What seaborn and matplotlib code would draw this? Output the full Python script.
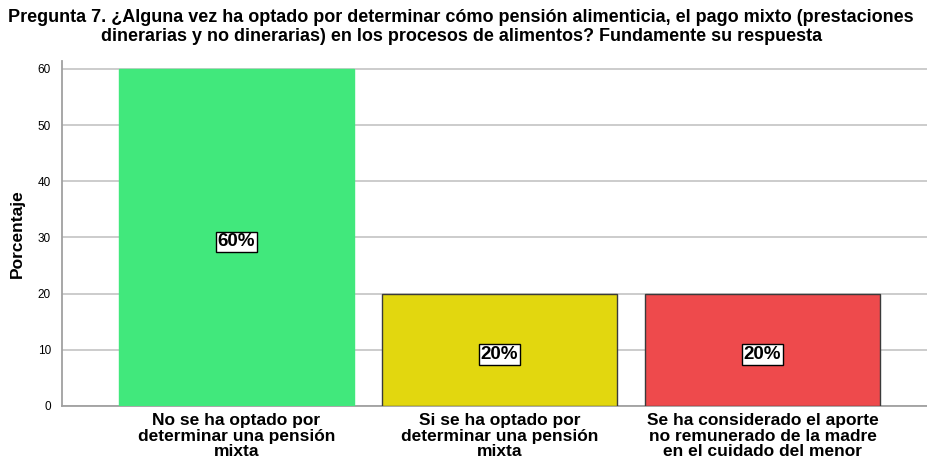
import pandas as pd
import matplotlib
matplotlib.use("Agg")
from matplotlib import pyplot as plt
import seaborn as sns

categorias = [
    "No se ha optado por\ndeterminar una pensión\nmixta",
    "Si se ha optado por\ndeterminar una pensión\nmixta",
    "Se ha considerado el aporte\nno remunerado de la madre\nen el cuidado del menor",
]
porcentajes = [60, 20, 20]
etiquetas = ["60%", "20%", "20%"]
colores = ["#41E87C", "#E2D70F", "#EE4A4C"]
bordes = ["#41E87C", "#3a3a3a", "#3a3a3a"]

dataset = pd.DataFrame({"categoria": categorias, "porcentaje": porcentajes})

sns.set_theme(style="white")
plt.rcParams["font.family"] = ["Liberation Sans", "DejaVu Sans"]
plt.rcParams["text.color"] = "black"
plt.rcParams["axes.labelcolor"] = "black"
plt.rcParams["xtick.color"] = "black"
plt.rcParams["ytick.color"] = "black"

fig = plt.figure(figsize=(9.28, 4.63), dpi=100)
ax = fig.add_axes([62 / 928, 1 - 406 / 463, 1 - 62 / 928, (406 - 61) / 463])

sns.barplot(
    x="categoria", y="porcentaje", data=dataset,
    hue="categoria", palette=colores, legend=False,
    width=0.894, saturation=1, ax=ax, zorder=3,
)
for patch, borde in zip(ax.patches, bordes):
    patch.set_edgecolor(borde)
    patch.set_linewidth(1.0)

for i, (v, t) in enumerate(zip(porcentajes, etiquetas)):
    ax.text(i, v / 2 - 0.8, t, ha="center", va="center", fontsize=13.5, fontweight="bold",
            zorder=5, bbox=dict(boxstyle="square,pad=0.1", fc="white", ec="black", lw=1))

ax.set_xlim(-0.6635, 2.629)
ax.set_ylim(0, 61.4)
ax.set_yticks([0, 10, 20, 30, 40, 50, 60])
ax.yaxis.grid(True, color="#c8c8c8", linewidth=1.3, zorder=0)
ax.set_axisbelow(True)
for s in ["top", "right"]:
    ax.spines[s].set_visible(False)
ax.spines["left"].set_color("#a0a0a0")
ax.spines["bottom"].set_color("#a0a0a0")
ax.spines["left"].set_linewidth(1.3)
ax.spines["bottom"].set_linewidth(1.3)
ax.tick_params(axis="y", labelsize=8.5, length=0, pad=8)
ax.tick_params(axis="x", labelsize=12.5, length=0, pad=5)
for lbl in ax.get_xticklabels():
    lbl.set_fontweight("bold")
    lbl.set_linespacing(1.05)
ax.set_xlabel("")
ax.set_ylabel("Porcentaje", fontsize=12.5, fontweight="bold", labelpad=9)

fig.text(0.497, 1 - 27 / 463,
         "Pregunta 7. ¿Alguna vez ha optado por determinar cómo pensión alimenticia, el pago mixto (prestaciones\n"
         "dinerarias y no dinerarias) en los procesos de alimentos? Fundamente su respuesta",
         ha="center", va="center", fontsize=13, fontweight="bold", linespacing=1.15)

fig.savefig("out.png", dpi=100)
